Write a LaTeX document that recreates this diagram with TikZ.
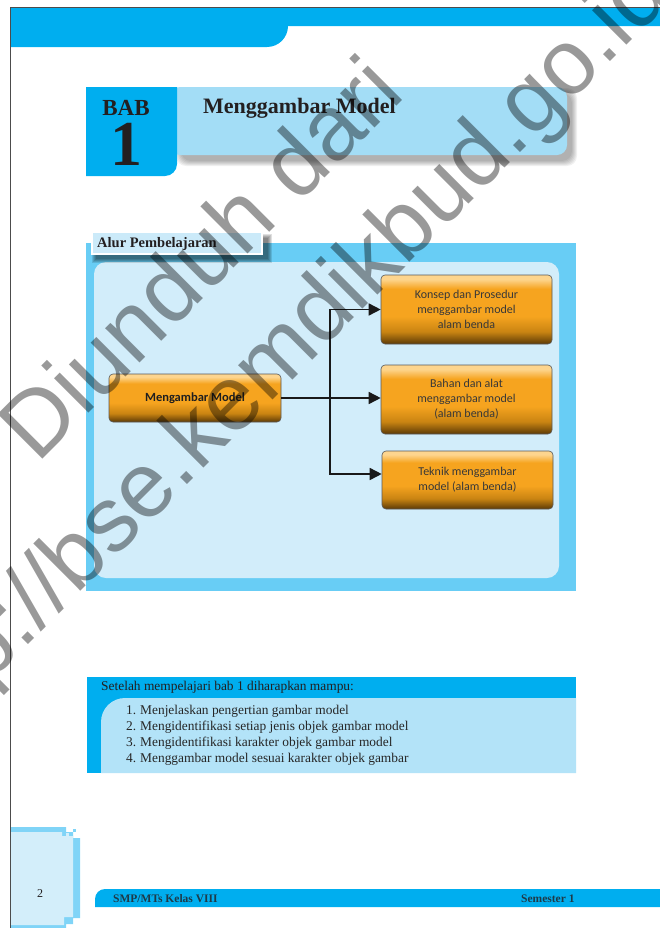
\documentclass[tikz,border=0pt]{standalone}
\usepackage{fontspec}
\setmainfont{Liberation Serif}
\newfontfamily\boxfont{Carlito}
\newfontfamily\markfont{Liberation Sans}
\usepackage{tikz}
\usetikzlibrary{arrows.meta,shapes}
\definecolor{babblue}{HTML}{00AEEF}
\definecolor{bannerblue}{HTML}{A3DDF6}
\definecolor{panelblue}{HTML}{68CDF5}
\definecolor{innerblue}{HTML}{D2EDFA}
\definecolor{alurblue}{HTML}{CBEAF9}
\definecolor{goalblue}{HTML}{B3E3F8}
\definecolor{pageblue}{HTML}{D3EEFA}
\definecolor{pageedge}{HTML}{80D4F7}
\definecolor{inktext}{HTML}{231F20}
\definecolor{foottext}{HTML}{1E3A48}
\definecolor{otop}{HTML}{FDD58E}
\definecolor{omid}{HTML}{F6A41F}
\definecolor{olow}{HTML}{C98412}
\definecolor{obot}{HTML}{5C3A06}
\pgfdeclareverticalshading{orangeglass}{100bp}{color(0bp)=(obot); color(25bp)=(obot); color(34bp)=(olow); color(45bp)=(omid); color(65bp)=(omid); color(72bp)=(otop); color(100bp)=(otop)}
\tikzset{
  obox/.style={draw=gray!70!black,line width=0.6bp,rounded corners=4bp,shading=orangeglass,
    font=\boxfont\fontsize{12bp}{15bp}\selectfont,text=black!78,align=center,inner sep=0pt},
  flow/.style={line width=1.6bp,black!90,-{Triangle[length=12bp,width=12bp]}},
  goal/.style={anchor=base west,font=\fontsize{13.4bp}{16bp}\selectfont,text=black!85},
  foot/.style={anchor=base west,font=\bfseries\fontsize{11.5bp}{12bp}\selectfont,text=foottext},
  wmark/.style={rotate=45,font=\markfont\fontsize{92bp}{92bp}\selectfont,text=black,opacity=.4}
}

\begin{document}
\begin{tikzpicture}

\useasboundingbox (0bp,0bp) rectangle (660bp,-928bp);

\fill[babblue] (11bp,-8bp) -- (660bp,-8bp) -- (660bp,-26bp) -- (288bp,-26bp) [rounded corners=21bp]-- (288bp,-47bp) [sharp corners]-- (11bp,-47bp) -- cycle;
\draw[gray!60!black,line width=0.9bp] (10.5bp,-928bp) -- (10.5bp,-7.5bp) -- (660bp,-7.5bp);

\foreach \i in {0,...,5}
  \fill[black,opacity=.06,rounded corners=10bp] ({(181-\i)*1bp},{-(93-\i)*1bp}) rectangle ({(572+\i)*1bp},{-(161+\i)*1bp});
\fill[bannerblue,rounded corners=10bp] (170bp,-87bp) rectangle (567bp,-155bp);
\fill[babblue] (86bp,-87bp) -- (177bp,-87bp) [rounded corners=12bp]-- (177bp,-176bp) [sharp corners]-- (86bp,-176bp) -- cycle;
\node (BAB) at (126bp,-115bp)[anchor=base,font=\bfseries\fontsize{23bp}{23bp}\selectfont,text=inktext] {BAB};
\node (N1) at (126bp,-165bp)[anchor=base,font=\bfseries\fontsize{64bp}{64bp}\selectfont,text=inktext] {1};
\node (TT) at (203bp,-113bp)[anchor=base west,font=\bfseries\fontsize{22bp}{22bp}\selectfont,text=inktext,inner sep=0pt] {Menggambar Model};

\fill[panelblue] (86bp,-243bp) rectangle (576bp,-591bp);
\fill[innerblue,rounded corners=12bp] (94bp,-262bp) rectangle (559bp,-578bp);
\foreach \i in {0,...,4}
  \fill[black,opacity=.12] ({(96-\i)*1bp},{-(238-\i)*1bp}) rectangle ({(268+\i)*1bp},{-(259+\i)*1bp});
\filldraw[fill=alurblue,draw=white,line width=1.5bp] (92bp,-232bp) rectangle (262bp,-254bp);
\node (AP) at (97bp,-247bp)[anchor=base west,font=\bfseries\fontsize{14.5bp}{15bp}\selectfont,text=inktext,inner sep=0pt] {Alur Pembelajaran};

\node (MM) at (195bp,-398bp)[obox,minimum width=172bp,minimum height=48bp,font=\boxfont\bfseries\fontsize{12.5bp}{15bp}\selectfont,text=black!88] {Mengambar Model};
\node (K1) at (466.5bp,-309.5bp)[obox,minimum width=171bp,minimum height=69bp] {Konsep dan Prosedur\\menggambar model\\alam benda};
\node (K2) at (466.5bp,-399.5bp)[obox,minimum width=171bp,minimum height=69bp] {Bahan dan alat\\menggambar model\\(alam benda)};
\node (K3) at (467.5bp,-480bp)[obox,minimum width=171bp,minimum height=58bp] {Teknik menggambar\\model (alam benda)};

\coordinate (J) at (330bp,-398bp);
\draw[line width=1.6bp,black!90] (MM.east) -- (J);
\draw[flow] (J) |- (K1.west);
\draw[flow] (J) -- (K2.west |- J);
\draw[flow] (J) |- ([yshift=6bp]K3.west);

\fill[babblue] (87bp,-677bp) rectangle (576bp,-773bp);
\fill[goalblue] (101bp,-773bp) [rounded corners=24bp]-- (101bp,-698bp) [sharp corners]-- (576bp,-698bp) -- (576bp,-773bp) -- cycle;
\node (G0) at (101bp,-690bp)[goal,text=inktext,inner sep=0pt] {Setelah mempelajari bab 1 diharapkan mampu:};
\node (G1) at (126bp,-714bp)[goal,inner sep=0pt] {\makebox[14bp][l]{1.}Menjelaskan pengertian gambar model};
\node (G2) at (126bp,-730bp)[goal,inner sep=0pt] {\makebox[14bp][l]{2.}Mengidentifikasi setiap jenis objek gambar model};
\node (G3) at (126bp,-746bp)[goal,inner sep=0pt] {\makebox[14bp][l]{3.}Mengidentifikasi karakter objek gambar model};
\node (G4) at (126bp,-762bp)[goal,inner sep=0pt] {\makebox[14bp][l]{4.}Menggambar model sesuai karakter objek gambar};

\fill[pageedge] (11bp,-827bp) -- (66bp,-827bp) -- (66bp,-832bp) -- (73bp,-832bp) -- (73bp,-838bp) -- (80bp,-838bp) -- (80bp,-918bp) -- (73bp,-918bp) -- (73bp,-924bp) -- (66bp,-924bp) -- (66bp,-928bp) -- (11bp,-928bp) -- cycle;
\fill[pageedge] (73bp,-829bp) rectangle (76bp,-832bp);
\fill[pageblue] (11bp,-832bp) -- (62bp,-832bp) -- (62bp,-836bp) -- (73bp,-836bp) -- (73bp,-917bp) -- (64bp,-917bp) -- (64bp,-925bp) -- (11bp,-925bp) -- cycle;
\fill[pageblue] (66bp,-833bp) rectangle (69bp,-836bp);
\node (PG) at (40bp,-897bp)[anchor=base,font=\fontsize{12bp}{12bp}\selectfont,text=inktext] {2};

\fill[babblue] (95bp,-907bp) [rounded corners=10bp]-- (95bp,-889bp) [sharp corners]-- (660bp,-889bp) -- (660bp,-907bp) -- cycle;
\node (F1) at (113bp,-902bp)[foot,inner sep=0pt] {SMP/MTs Kelas VIII};
\node (F2) at (521bp,-902bp)[foot,inner sep=0pt] {Semester 1};

\node (W1) at (199bp,-257bp)[wmark] {Diunduh dari};
\node (W2) at (277bp,-362bp)[wmark] {http://bse.kemdikbud.go.id};
\end{tikzpicture}
\end{document}
